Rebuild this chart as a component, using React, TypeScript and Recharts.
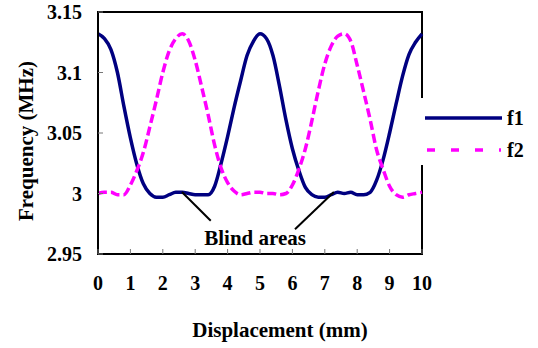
import { LineChart, Line, XAxis, YAxis, ReferenceArea, ReferenceLine, ReferenceDot, Label } from "recharts";

const FONT = "'Times New Roman', 'Liberation Serif', 'DejaVu Serif', serif";

const displacement = [
  0, 0.2, 0.4, 0.6, 0.8, 1, 1.2, 1.4, 1.6, 1.8, 2, 2.2, 2.4, 2.6, 2.8, 3, 3.2, 3.4, 3.6, 3.8, 4, 4.2, 4.4, 4.6, 4.8,
  5, 5.2, 5.4, 5.6, 5.8, 6, 6.2, 6.4, 6.6, 6.8, 7, 7.2, 7.4, 7.6, 7.8, 8, 8.2, 8.4, 8.6, 8.8, 9, 9.2, 9.4, 9.6, 9.8, 10,
];

const f1 = [
  3.132, 3.128, 3.119, 3.1, 3.072, 3.046, 3.024, 3.008, 3.0, 2.997, 2.997, 2.999, 3.001, 3.001, 3.0, 2.999, 2.999,
  2.999, 3.006, 3.025, 3.047, 3.071, 3.093, 3.114, 3.126, 3.132, 3.128, 3.114, 3.089, 3.061, 3.037, 3.019, 3.005,
  2.999, 2.997, 2.997, 2.999, 3.001, 3.0, 3.001, 2.999, 2.999, 3.001, 3.011, 3.028, 3.05, 3.074, 3.097, 3.115, 3.125,
  3.132,
];

const f2 = [
  3.0, 3.001, 3.001, 2.999, 2.999, 3.007, 3.019, 3.034, 3.055, 3.077, 3.1, 3.118, 3.128, 3.132, 3.126, 3.11, 3.088,
  3.065, 3.04, 3.021, 3.009, 3.002, 2.999, 3.0, 3.001, 3.001, 3.0, 3.0, 2.999, 3.0, 3.007, 3.02, 3.037, 3.06, 3.085,
  3.107, 3.122, 3.13, 3.132, 3.126, 3.106, 3.084, 3.061, 3.036, 3.02, 3.006, 2.999, 2.997, 2.999, 3.0, 3.001,
];

const xTicks = [0, 1, 2, 3, 4, 5, 6, 7, 8, 9, 10];
const yTicks = [2.95, 3, 3.05, 3.1, 3.15];

// pointer lines to the flat parts of f1
const blindLines = [
  { from: [2.59, 3.0012], to: [3.48, 2.9775] },
  { from: [6.08, 2.9704], to: [7.28, 3.0012] },
];

const data = displacement.map((x, i) => ({ x, f1: f1[i], f2: f2[i] }));

const textStyle = { fontFamily: FONT, fontWeight: 700 };

function XTick({ x, y, payload }: any) {
  return (
    <g>
      <line x1={x} x2={x} y1={y - 29} y2={y - 34} stroke="#777" strokeWidth={1} />
      <text x={x} y={y} dy="0.35em" textAnchor="middle" style={textStyle} fontSize={20} fill="#000">
        {payload.value}
      </text>
    </g>
  );
}

function YTick({ x, y, payload }: any) {
  return (
    <g>
      <line x1={x + 16} x2={x + 21} y1={y} y2={y} stroke="#777" strokeWidth={1} />
      <text x={x} y={y} dy="0.35em" textAnchor="end" style={textStyle} fontSize={20} fill="#000">
        {payload.value}
      </text>
    </g>
  );
}

function SideLegend() {
  return (
    <div style={{ position: "absolute", left: 418, top: 98, width: 120, height: 67, background: "#fff" }}>
      <svg width={120} height={67}>
        <line x1={7} x2={84} y1={20} y2={20} stroke="#000080" strokeWidth={3.5} />
        <text x={89} y={20} dy="0.35em" style={textStyle} fontSize={20} fill="#000">
          f1
        </text>
        <line x1={9} x2={83} y1={52} y2={52} stroke="#ff00ff" strokeWidth={3.5} strokeDasharray="8 16" />
        <text x={89} y={52} dy="0.35em" style={textStyle} fontSize={20} fill="#000">
          f2
        </text>
      </svg>
    </div>
  );
}

export default function App() {
  return (
    <div style={{ position: "relative", width: 538, height: 348, background: "#fff" }}>
      <style>{`body{margin:0}`}</style>
      <LineChart width={538} height={348} data={data} margin={{ top: 12, right: 116, bottom: 0, left: 0 }}>
        <ReferenceArea x1={0} x2={10} y1={2.95} y2={3.15} fill="none" stroke="#000" strokeWidth={2} />
        <XAxis
          dataKey="x"
          type="number"
          domain={[0, 10]}
          ticks={xTicks}
          height={94}
          tickSize={0}
          tickMargin={29}
          tickLine={false}
          axisLine={{ stroke: "#000", strokeWidth: 2 }}
          tick={<XTick />}
          interval={0}
        >
          <Label
            value="Displacement (mm)"
            position="center"
            dx={20}
            dy={29}
            style={textStyle}
            fontSize={21}
            fill="#000"
          />
        </XAxis>
        <YAxis
          type="number"
          domain={[2.95, 3.15]}
          ticks={yTicks}
          width={98}
          tickSize={0}
          tickMargin={16}
          tickLine={false}
          axisLine={{ stroke: "#000", strokeWidth: 2 }}
          tick={<YTick />}
          interval={0}
        >
          <Label
            value="Frequency (MHz)"
            position="center"
            angle={-90}
            dx={-23}
            dy={8}
            style={textStyle}
            fontSize={21}
            fill="#000"
          />
        </YAxis>
        <Line dataKey="f1" type="monotone" stroke="#000080" strokeWidth={3.5} dot={false} isAnimationActive={false} />
        <Line
          dataKey="f2"
          type="monotone"
          stroke="#ff00ff"
          strokeWidth={3.5}
          strokeDasharray="9 4"
          dot={false}
          isAnimationActive={false}
        />
        {blindLines.map((l, i) => (
          <ReferenceLine
            key={i}
            segment={[
              { x: l.from[0], y: l.from[1] },
              { x: l.to[0], y: l.to[1] },
            ]}
            stroke="#000"
            strokeWidth={2}
          />
        ))}
        <ReferenceDot
          x={4.85}
          y={2.964}
          r={0}
          fill="none"
          stroke="none"
          label={{
            value: "Blind areas",
            position: "center",
            style: textStyle,
            fontSize: 21,
            fill: "#000",
          }}
        />
      </LineChart>
      <SideLegend />
    </div>
  );
}
